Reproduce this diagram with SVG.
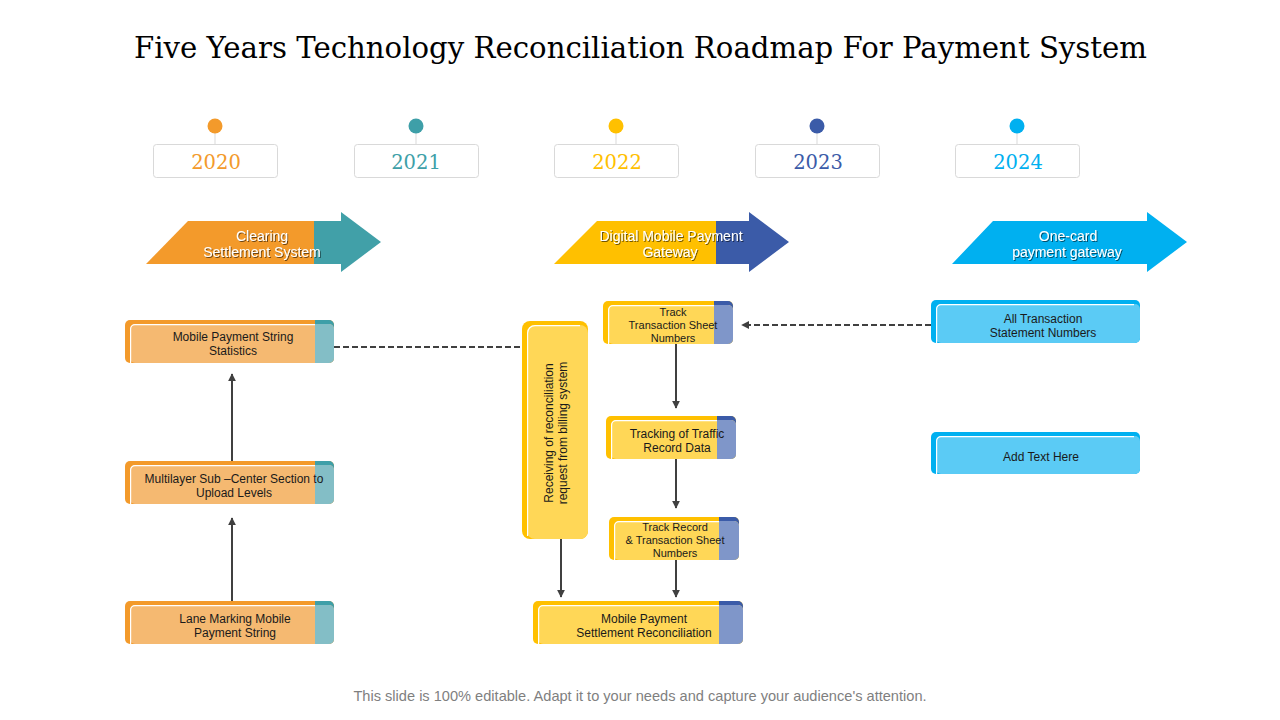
<svg xmlns="http://www.w3.org/2000/svg" width="1280" height="720" viewBox="0 0 1280 720">
<defs>
<style>
.title{font-family:"DejaVu Serif","Liberation Serif",serif;font-size:30px;fill:#000;}
.year{font-family:"DejaVu Serif","Liberation Serif",serif;font-size:19.5px;text-anchor:middle;}
.ybox{fill:#fff;stroke:#d9d9d9;stroke-width:1;}
.ystem{stroke:#d9d9d9;stroke-width:1;}
.alab{font-family:"Liberation Sans",Arial,sans-serif;font-size:14px;fill:#fff;text-anchor:middle;filter:url(#sh);}
.t12{font-family:"Liberation Sans",Arial,sans-serif;font-size:12px;fill:#1a1a1a;text-anchor:middle;}
.t11{font-family:"Liberation Sans",Arial,sans-serif;font-size:11px;fill:#1a1a1a;text-anchor:middle;}
.wl{fill:none;stroke:#fff;stroke-width:1.2;}
.con{fill:none;stroke:#404040;stroke-width:2;}
.dash{fill:none;stroke:#404040;stroke-width:2;stroke-dasharray:6 3;}
.foot{font-family:"Liberation Sans",Arial,sans-serif;font-size:14.6px;fill:#7f7f7f;text-anchor:middle;}
</style>
<filter id="sh" x="-10%" y="-30%" width="130%" height="170%">
<feDropShadow dx="1" dy="1" stdDeviation="0.6" flood-color="#000" flood-opacity="0.55"/>
</filter>
<marker id="ah" viewBox="0 0 10 10" refX="9" refY="5" markerWidth="4" markerHeight="4" orient="auto" markerUnits="strokeWidth">
<path d="M0,0 L10,5 L0,10 z" fill="#404040"/>
</marker>
</defs>
<rect width="1280" height="720" fill="#fff"/>

<text class="title" x="134" y="58" textLength="1013" lengthAdjust="spacingAndGlyphs">Five Years Technology Reconciliation Roadmap For Payment System</text>

<g id="year-2020">
<line class="ystem" x1="215" y1="126" x2="215" y2="144"/>
<circle cx="215" cy="126" r="7.5" fill="#F39A2B"/>
<rect class="ybox" x="153.5" y="144.5" width="124" height="33" rx="3"/>
<text class="year" x="216" y="169" fill="#F39A2B">2020</text>
</g>
<g id="year-2021">
<line class="ystem" x1="416" y1="126" x2="416" y2="144"/>
<circle cx="416" cy="126" r="7.5" fill="#3E9FA8"/>
<rect class="ybox" x="354.5" y="144.5" width="124" height="33" rx="3"/>
<text class="year" x="416" y="169" fill="#3E9FA8">2021</text>
</g>
<g id="year-2022">
<line class="ystem" x1="616" y1="126" x2="616" y2="144"/>
<circle cx="616" cy="126" r="7.5" fill="#FFC000"/>
<rect class="ybox" x="554.5" y="144.5" width="124" height="33" rx="3"/>
<text class="year" x="617" y="169" fill="#FFC000">2022</text>
</g>
<g id="year-2023">
<line class="ystem" x1="817" y1="126" x2="817" y2="144"/>
<circle cx="817" cy="126" r="7.5" fill="#3B5BA8"/>
<rect class="ybox" x="755.5" y="144.5" width="124" height="33" rx="3"/>
<text class="year" x="818" y="169" fill="#3B5BA8">2023</text>
</g>
<g id="year-2024">
<line class="ystem" x1="1017" y1="126" x2="1017" y2="144"/>
<circle cx="1017" cy="126" r="7.5" fill="#00B0F0"/>
<rect class="ybox" x="955.5" y="144.5" width="124" height="33" rx="3"/>
<text class="year" x="1018" y="169" fill="#00B0F0">2024</text>
</g>

<g id="arrow-clearing">
<path d="M188,221 H314 V264 H146 Z" fill="#F39A2B"/>
<path d="M314,221 H341 V212 L381,242 L341,272 V264 H314 Z" fill="#41A0A8"/>
<text class="alab" x="262" y="241">Clearing</text>
<text class="alab" x="262" y="257">Settlement System</text>
</g>
<g id="arrow-digital">
<path d="M597,221 H716 V264 H554 Z" fill="#FFC000"/>
<path d="M716,221 H749 V212 L789,242 L749,272 V264 H716 Z" fill="#3B5BA8"/>
<text class="alab" x="671" y="241">Digital Mobile Payment</text>
<text class="alab" x="670" y="257">Gateway</text>
</g>
<g id="arrow-onecard">
<path d="M993,221 H1147 V212 L1187,242 L1147,272 V264 H952 Z" fill="#00B0F0"/>
<text class="alab" x="1068" y="241">One-card</text>
<text class="alab" x="1067" y="257">payment gateway</text>
</g>

<g id="connectors">
<line class="con" x1="232" y1="601" x2="232" y2="518" marker-end="url(#ah)"/>
<line class="con" x1="232" y1="461" x2="232" y2="374" marker-end="url(#ah)"/>
<line class="dash" x1="334" y1="347" x2="522" y2="347"/>
<line class="dash" x1="931" y1="325" x2="742" y2="325" marker-end="url(#ah)"/>
<line class="con" x1="676" y1="344" x2="676" y2="408" marker-end="url(#ah)"/>
<line class="con" x1="676" y1="459" x2="676" y2="508" marker-end="url(#ah)"/>
<line class="con" x1="676" y1="560" x2="676" y2="597" marker-end="url(#ah)"/>
<line class="con" x1="561" y1="539" x2="561" y2="597" marker-end="url(#ah)"/>
</g>

<g id="box-mobile-string-statistics">
<rect x="125" y="320" width="209" height="43" rx="5" fill="#F39A2B"/>
<rect x="315" y="320" width="19" height="43" rx="5" fill="#3E9FA8"/>
<rect x="315" y="320" width="6" height="43" fill="#3E9FA8"/>
<rect x="130" y="324" width="204" height="39" rx="5" fill="#F5B971"/>
<rect x="315" y="324" width="19" height="39" rx="5" fill="#83BEC6"/>
<rect x="315" y="324" width="6" height="39" fill="#83BEC6"/>
<path class="wl" d="M130.6,363 V329 a4.4,4.4 0 0 1 4.4,-4.4 H315"/>
<text class="t12" x="233" y="341">Mobile Payment String</text>
<text class="t12" x="233" y="355">Statistics</text>
</g>
<g id="box-multilayer">
<rect x="125" y="461" width="209" height="43" rx="5" fill="#F39A2B"/>
<rect x="315" y="461" width="19" height="43" rx="5" fill="#3E9FA8"/>
<rect x="315" y="461" width="6" height="43" fill="#3E9FA8"/>
<rect x="130" y="465" width="204" height="39" rx="5" fill="#F5B971"/>
<rect x="315" y="465" width="19" height="39" rx="5" fill="#83BEC6"/>
<rect x="315" y="465" width="6" height="39" fill="#83BEC6"/>
<path class="wl" d="M130.6,504 V470 a4.4,4.4 0 0 1 4.4,-4.4 H315"/>
<text class="t12" x="234" y="483">Multilayer Sub –Center Section to</text>
<text class="t12" x="234" y="497">Upload Levels</text>
</g>
<g id="box-lane-marking">
<rect x="125" y="601" width="209" height="43" rx="5" fill="#F39A2B"/>
<rect x="315" y="601" width="19" height="43" rx="5" fill="#3E9FA8"/>
<rect x="315" y="601" width="6" height="43" fill="#3E9FA8"/>
<rect x="130" y="605" width="204" height="39" rx="5" fill="#F5B971"/>
<rect x="315" y="605" width="19" height="39" rx="5" fill="#83BEC6"/>
<rect x="315" y="605" width="6" height="39" fill="#83BEC6"/>
<path class="wl" d="M130.6,644 V610 a4.4,4.4 0 0 1 4.4,-4.4 H315"/>
<text class="t12" x="235" y="623">Lane Marking Mobile</text>
<text class="t12" x="235" y="637">Payment String</text>
</g>

<g id="box-receiving">
<rect x="522" y="321" width="66" height="218" rx="8" fill="#FFC000"/>
<rect x="527" y="325" width="61" height="214" rx="8" fill="#FFD757"/>
<path class="wl" d="M527.6,536 V333 a7.4,7.4 0 0 1 7.4,-7.4 H580"/>
<text class="t12" transform="translate(553,433) rotate(-90)">Receiving of reconciliation</text>
<text class="t12" transform="translate(567,433) rotate(-90)">request from billing system</text>
</g>

<g id="box-track-transaction">
<rect x="603" y="301" width="130" height="43" rx="5" fill="#FFC000"/>
<rect x="714" y="301" width="19" height="43" rx="5" fill="#3B5BA8"/>
<rect x="714" y="301" width="6" height="43" fill="#3B5BA8"/>
<rect x="608" y="305" width="125" height="39" rx="5" fill="#FFD757"/>
<rect x="714" y="305" width="19" height="39" rx="5" fill="#7F96C9"/>
<rect x="714" y="305" width="6" height="39" fill="#7F96C9"/>
<path class="wl" d="M608.6,344 V310 a4.4,4.4 0 0 1 4.4,-4.4 H714"/>
<text class="t11" x="673" y="316">Track</text>
<text class="t11" x="673" y="329">Transaction Sheet</text>
<text class="t11" x="673" y="342">Numbers</text>
</g>
<g id="box-tracking-traffic">
<rect x="606" y="416" width="130" height="43" rx="5" fill="#FFC000"/>
<rect x="717" y="416" width="19" height="43" rx="5" fill="#3B5BA8"/>
<rect x="717" y="416" width="6" height="43" fill="#3B5BA8"/>
<rect x="611" y="420" width="125" height="39" rx="5" fill="#FFD757"/>
<rect x="717" y="420" width="19" height="39" rx="5" fill="#7F96C9"/>
<rect x="717" y="420" width="6" height="39" fill="#7F96C9"/>
<path class="wl" d="M611.6,459 V425 a4.4,4.4 0 0 1 4.4,-4.4 H717"/>
<text class="t12" x="677" y="438">Tracking of Traffic</text>
<text class="t12" x="677" y="452">Record Data</text>
</g>
<g id="box-track-record">
<rect x="609" y="517" width="130" height="43" rx="5" fill="#FFC000"/>
<rect x="719" y="517" width="20" height="43" rx="5" fill="#3B5BA8"/>
<rect x="719" y="517" width="6" height="43" fill="#3B5BA8"/>
<rect x="614" y="521" width="125" height="39" rx="5" fill="#FFD757"/>
<rect x="719" y="521" width="20" height="39" rx="5" fill="#7F96C9"/>
<rect x="719" y="521" width="6" height="39" fill="#7F96C9"/>
<path class="wl" d="M614.6,560 V526 a4.4,4.4 0 0 1 4.4,-4.4 H719"/>
<text class="t11" x="675" y="531">Track Record</text>
<text class="t11" x="675" y="544">&amp; Transaction Sheet</text>
<text class="t11" x="675" y="557">Numbers</text>
</g>
<g id="box-settlement-reconciliation">
<rect x="533" y="601" width="210" height="43" rx="5" fill="#FFC000"/>
<rect x="719" y="601" width="24" height="43" rx="5" fill="#3B5BA8"/>
<rect x="719" y="601" width="6" height="43" fill="#3B5BA8"/>
<rect x="538" y="605" width="205" height="39" rx="5" fill="#FFD757"/>
<rect x="719" y="605" width="24" height="39" rx="5" fill="#7F96C9"/>
<rect x="719" y="605" width="6" height="39" fill="#7F96C9"/>
<path class="wl" d="M538.6,644 V610 a4.4,4.4 0 0 1 4.4,-4.4 H719"/>
<text class="t12" x="644" y="623">Mobile Payment</text>
<text class="t12" x="644" y="637">Settlement Reconciliation</text>
</g>

<g id="box-all-transaction">
<rect x="931" y="300" width="209" height="43" rx="5" fill="#00B0F0"/>
<rect x="936" y="304" width="204" height="39" rx="5" fill="#5BCBF5"/>
<path class="wl" d="M936.6,343 V309 a4.4,4.4 0 0 1 4.4,-4.4 H1134"/>
<text class="t12" x="1043" y="323">All Transaction</text>
<text class="t12" x="1043" y="337">Statement Numbers</text>
</g>
<g id="box-add-text">
<rect x="931" y="432" width="209" height="42" rx="5" fill="#00B0F0"/>
<rect x="936" y="436" width="204" height="38" rx="5" fill="#5BCBF5"/>
<path class="wl" d="M936.6,474 V441 a4.4,4.4 0 0 1 4.4,-4.4 H1134"/>
<text class="t12" x="1041" y="461">Add Text Here</text>
</g>

<text class="foot" x="640" y="701">This slide is 100% editable. Adapt it to your needs and capture your audience's attention.</text>
</svg>
